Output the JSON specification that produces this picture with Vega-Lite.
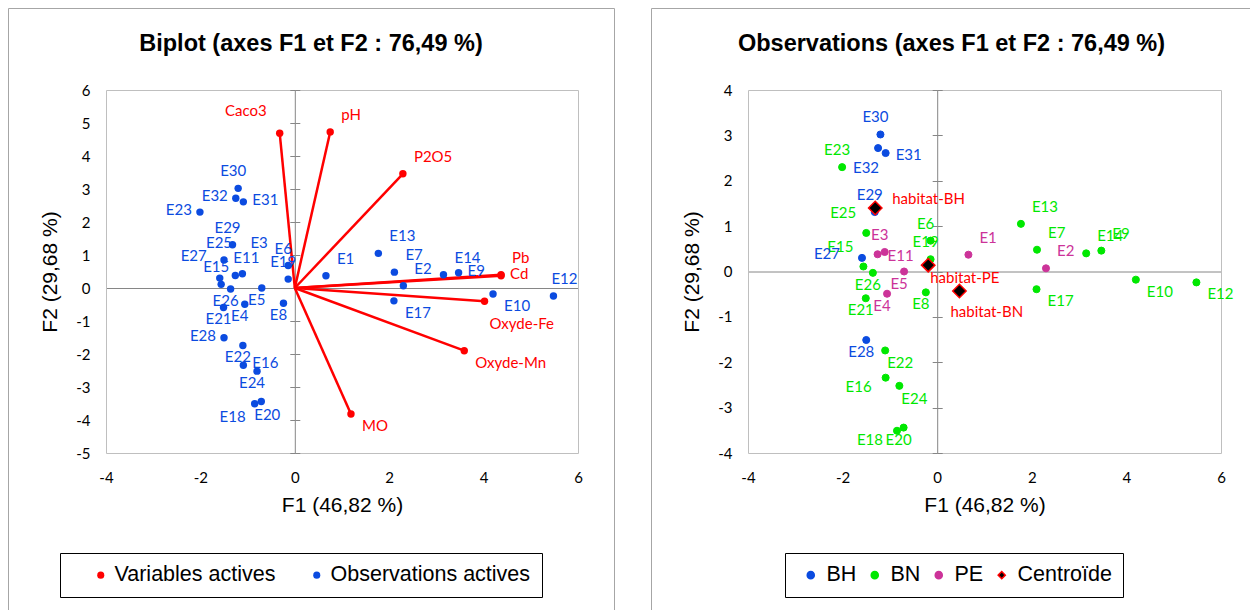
{
  "$schema": "https://vega.github.io/schema/vega-lite/v6.json",
  "padding": {"left": 7, "top": 7, "right": 0, "bottom": 0},
  "background": "white",
  "config": {"view": {"stroke": "#A6A6A6", "strokeWidth": 1}, "font": "Lato"},
  "datasets": {
    "pts": [
      {"id": "E1", "kind": "obs", "habitat": "PE", "F1": 0.66, "F2": 0.37},
      {"id": "E2", "kind": "obs", "habitat": "PE", "F1": 2.30, "F2": 0.07},
      {"id": "E3", "kind": "obs", "habitat": "PE", "F1": -1.11, "F2": 0.43},
      {"id": "E4", "kind": "obs", "habitat": "PE", "F1": -1.06, "F2": -0.49},
      {"id": "E5", "kind": "obs", "habitat": "PE", "F1": -0.70, "F2": 0.00},
      {"id": "E6", "kind": "obs", "habitat": "BN", "F1": -0.14, "F2": 0.68},
      {"id": "E7", "kind": "obs", "habitat": "BN", "F1": 2.11, "F2": 0.48},
      {"id": "E8", "kind": "obs", "habitat": "BN", "F1": -0.24, "F2": -0.46},
      {"id": "E9", "kind": "obs", "habitat": "BN", "F1": 3.47, "F2": 0.46},
      {"id": "E10", "kind": "obs", "habitat": "BN", "F1": 4.20, "F2": -0.18},
      {"id": "E11", "kind": "obs", "habitat": "PE", "F1": -1.26, "F2": 0.38},
      {"id": "E12", "kind": "obs", "habitat": "BN", "F1": 5.48, "F2": -0.24},
      {"id": "E13", "kind": "obs", "habitat": "BN", "F1": 1.77, "F2": 1.05},
      {"id": "E14", "kind": "obs", "habitat": "BN", "F1": 3.15, "F2": 0.40},
      {"id": "E15", "kind": "obs", "habitat": "BN", "F1": -1.56, "F2": 0.11},
      {"id": "E16", "kind": "obs", "habitat": "BN", "F1": -1.09, "F2": -2.34},
      {"id": "E17", "kind": "obs", "habitat": "BN", "F1": 2.10, "F2": -0.39},
      {"id": "E18", "kind": "obs", "habitat": "BN", "F1": -0.85, "F2": -3.51},
      {"id": "E19", "kind": "obs", "habitat": "BN", "F1": -0.14, "F2": 0.27},
      {"id": "E20", "kind": "obs", "habitat": "BN", "F1": -0.71, "F2": -3.44},
      {"id": "E21", "kind": "obs", "habitat": "BN", "F1": -1.51, "F2": -0.59},
      {"id": "E22", "kind": "obs", "habitat": "BN", "F1": -1.10, "F2": -1.74},
      {"id": "E23", "kind": "obs", "habitat": "BN", "F1": -2.01, "F2": 2.30},
      {"id": "E24", "kind": "obs", "habitat": "BN", "F1": -0.80, "F2": -2.52},
      {"id": "E25", "kind": "obs", "habitat": "BN", "F1": -1.50, "F2": 0.85},
      {"id": "E26", "kind": "obs", "habitat": "BN", "F1": -1.36, "F2": -0.03},
      {"id": "E27", "kind": "obs", "habitat": "BH", "F1": -1.59, "F2": 0.30},
      {"id": "E28", "kind": "obs", "habitat": "BH", "F1": -1.50, "F2": -1.51},
      {"id": "E29", "kind": "obs", "habitat": "BH", "F1": -1.32, "F2": 1.31},
      {"id": "E30", "kind": "obs", "habitat": "BH", "F1": -1.20, "F2": 3.02},
      {"id": "E31", "kind": "obs", "habitat": "BH", "F1": -1.09, "F2": 2.61},
      {"id": "E32", "kind": "obs", "habitat": "BH", "F1": -1.25, "F2": 2.72},
      {"id": "Caco3", "kind": "var", "F1": -0.32, "F2": 4.69},
      {"id": "pH", "kind": "var", "F1": 0.75, "F2": 4.73},
      {"id": "P2O5", "kind": "var", "F1": 2.29, "F2": 3.46},
      {"id": "Pb", "kind": "var", "F1": 4.37, "F2": 0.40},
      {"id": "Cd", "kind": "var", "F1": 4.37, "F2": 0.37},
      {"id": "Oxyde-Fe", "kind": "var", "F1": 4.02, "F2": -0.40},
      {"id": "Oxyde-Mn", "kind": "var", "F1": 3.59, "F2": -1.90},
      {"id": "MO", "kind": "var", "F1": 1.19, "F2": -3.82},
      {"id": "habitat-BH", "kind": "cent", "habitat": "Centroïde", "F1": -1.31, "F2": 1.40},
      {"id": "habitat-PE", "kind": "cent", "habitat": "Centroïde", "F1": -0.19, "F2": 0.14},
      {"id": "habitat-BN", "kind": "cent", "habitat": "Centroïde", "F1": 0.47, "F2": -0.43}
    ]
  },
  "spacing": 35,
  "resolve": {"scale": {"color": "independent", "fill": "independent", "stroke": "independent", "shape": "independent"}},
  "hconcat": [
    {
      "width": 606,
      "height": 606,
      "data": {"name": "pts"},
      "title": {"text": "Biplot (axes F1 et F2 : 76,49 %)", "font": "Liberation Sans", "fontSize": 23.5, "fontWeight": "bold", "color": "#000000", "anchor": "middle", "frame": "group", "offset": -66, "baseline": "alphabetic"},
      "encoding": {
        "x": {"field": "F1", "type": "quantitative", "scale": {"domain": [-4, 6], "range": [98, 570], "nice": false, "zero": false}, "axis": null},
        "y": {"field": "F2", "type": "quantitative", "scale": {"domain": [-5, 6], "range": [445, 82], "nice": false, "zero": false}, "axis": null}
      },
      "resolve": {"axis": {"x": "independent", "y": "independent"}},
      "layer": [
        {
          "transform": [{"filter": {"field": "kind", "equal": "var"}}],
          "mark": {"type": "rule", "color": "#FF0000", "strokeWidth": 2.5},
          "encoding": {
            "x": {"field": "F1", "type": "quantitative", "scale": {"domain": [-4, 6], "range": [98, 570], "nice": false, "zero": false},
              "axis": {"orient": "bottom", "offset": -161, "values": [-4, -2, 0, 2, 4, 6], "domain": true, "domainColor": "#BFBFBF", "domainWidth": 1, "ticks": false, "tickSize": 0, "grid": false, "labelFont": "Lato", "labelFontSize": 15, "labelColor": "#000000", "labelPadding": 17, "labelFlush": false, "labelOverlap": false, "labelExpr": "(datum.value < 0 ? '-' : '') + abs(datum.value)", "title": "F1 (46,82 %)", "titleFont": "Liberation Sans", "titleFontSize": 21, "titleFontWeight": "normal", "titleColor": "#000000", "titlePadding": 9}},
            "y": {"field": "F2", "type": "quantitative", "scale": {"domain": [-5, 6], "range": [445, 82], "nice": false, "zero": false},
              "axis": {"orient": "left", "offset": -98, "values": [-5, -4, -3, -2, -1, 0, 1, 2, 3, 4, 5, 6], "domain": true, "domainColor": "#BFBFBF", "domainWidth": 1, "ticks": false, "tickSize": 0, "grid": false, "labelFont": "Lato", "labelFontSize": 15, "labelColor": "#000000", "labelPadding": 16, "labelFlush": false, "labelOverlap": false, "labelExpr": "(datum.value < 0 ? '-' : '') + abs(datum.value)", "title": "F2 (29,68 %)", "titleFont": "Liberation Sans", "titleFontSize": 21, "titleFontWeight": "normal", "titleColor": "#000000", "titlePadding": 15}},
            "x2": {"datum": 0},
            "y2": {"datum": 0}
          }
        },
        {
          "transform": [{"filter": {"field": "kind", "equal": "var"}}],
          "mark": {"type": "circle", "size": 55, "opacity": 1},
          "encoding": {
            "x": {"field": "F1", "type": "quantitative", "scale": {"domain": [-4, 6], "range": [98, 570], "nice": false, "zero": false},
              "axis": {"orient": "top", "offset": -82, "domain": true, "domainColor": "#BFBFBF", "ticks": false, "labels": false, "grid": false, "title": null}},
            "y": {"field": "F2", "type": "quantitative", "scale": {"domain": [-5, 6], "range": [445, 82], "nice": false, "zero": false},
              "axis": {"orient": "right", "offset": -36, "domain": true, "domainColor": "#BFBFBF", "ticks": false, "labels": false, "grid": false, "title": null}},
            "color": {"datum": "Variables actives", "type": "nominal",
              "scale": {"domain": ["Variables actives", "Observations actives"], "range": ["#FF0000", "#0B4BE0"]},
              "legend": {"title": null, "orient": "none", "legendX": 52, "legendY": 545, "direction": "horizontal", "strokeColor": "#000000", "fillColor": "#FFFFFF", "padding": 11, "symbolType": "circle", "symbolSize": 50, "labelFont": "Liberation Sans", "labelFontSize": 21.5, "labelColor": "#000000", "labelOffset": 3, "columnPadding": 11, "symbolOffset": 19, "labelLimit": 400}}
          }
        },
        {
          "transform": [{"filter": {"field": "kind", "equal": "obs"}}],
          "mark": {"type": "circle", "size": 55, "opacity": 1},
          "encoding": {
            "x": {"field": "F1", "type": "quantitative", "scale": {"domain": [-4, 6], "range": [98, 570], "nice": false, "zero": false},
              "axis": {"orient": "bottom", "offset": -326, "domain": true, "domainColor": "#868686", "ticks": false, "labels": false, "grid": false, "title": null}},
            "y": {"field": "F2", "type": "quantitative", "scale": {"domain": [-5, 6], "range": [445, 82], "nice": false, "zero": false},
              "axis": {"orient": "left", "offset": -286.8, "values": [-5, -4, -3, -2, -1, 0, 1, 2, 3, 4, 5, 6], "domain": true, "domainColor": "#868686", "ticks": true, "tickSize": 5, "tickColor": "#868686", "labels": false, "grid": false, "title": null}},
            "color": {"datum": "Observations actives", "type": "nominal",
              "scale": {"domain": ["Variables actives", "Observations actives"], "range": ["#FF0000", "#0B4BE0"]},
              "legend": {"title": null, "orient": "none", "legendX": 52, "legendY": 545, "direction": "horizontal", "strokeColor": "#000000", "fillColor": "#FFFFFF", "padding": 11, "symbolType": "circle", "symbolSize": 50, "labelFont": "Liberation Sans", "labelFontSize": 21.5, "labelColor": "#000000", "labelOffset": 3, "columnPadding": 11, "symbolOffset": 19, "labelLimit": 400}}
          }
        },
        {
          "transform": [{"filter": {"field": "id", "oneOf": ["E30", "E29", "E25", "E15", "E6", "E19"]}}],
          "mark": {"type": "text", "font": "Lato", "fontSize": 15, "align": "center", "baseline": "middle", "dx": -5, "dy": -17},
          "encoding": {
            "y": {"field": "F2", "type": "quantitative", "scale": {"domain": [-5, 6], "range": [445, 82], "nice": false, "zero": false},
              "axis": {"orient": "right", "offset": -319.2, "values": [-5, -4, -3, -2, -1, 0, 1, 2, 3, 4, 5, 6], "domain": false, "ticks": true, "tickSize": 5, "tickColor": "#868686", "labels": false, "grid": false, "title": null}},
            "text": {"field": "id"},
            "color": {"condition": {"test": "datum.kind === 'var'", "value": "#FF0000"}, "value": "#0B4BE0"}
          }
        },
        {
          "transform": [{"filter": {"field": "id", "oneOf": ["E12", "E11"]}}],
          "mark": {"type": "text", "font": "Lato", "fontSize": 15, "align": "center", "baseline": "middle", "dx": 11, "dy": -17},
          "encoding": {"text": {"field": "id"}, "color": {"condition": {"test": "datum.kind === 'var'", "value": "#FF0000"}, "value": "#0B4BE0"}}
        },
        {
          "transform": [{"filter": {"field": "id", "oneOf": ["E26", "E5", "E21", "E4", "E8", "E22", "E24"]}}],
          "mark": {"type": "text", "font": "Lato", "fontSize": 15, "align": "center", "baseline": "middle", "dx": -5, "dy": 12},
          "encoding": {"text": {"field": "id"}, "color": {"condition": {"test": "datum.kind === 'var'", "value": "#FF0000"}, "value": "#0B4BE0"}}
        },
        {
          "transform": [{"filter": {"field": "id", "oneOf": ["E20"]}}],
          "mark": {"type": "text", "font": "Lato", "fontSize": 15, "align": "center", "baseline": "middle", "dx": 6, "dy": 13},
          "encoding": {"text": {"field": "id"}, "color": {"condition": {"test": "datum.kind === 'var'", "value": "#FF0000"}, "value": "#0B4BE0"}}
        },
        {
          "transform": [{"filter": {"field": "id", "oneOf": ["E1", "E13", "E7", "E2", "E14", "pH", "P2O5", "Pb"]}}],
          "mark": {"type": "text", "font": "Lato", "fontSize": 15, "align": "left", "baseline": "middle", "dx": 11, "dy": -17},
          "encoding": {"text": {"field": "id"}, "color": {"condition": {"test": "datum.kind === 'var'", "value": "#FF0000"}, "value": "#0B4BE0"}}
        },
        {
          "transform": [{"filter": {"field": "id", "oneOf": ["E9", "Cd", "E31", "E16"]}}],
          "mark": {"type": "text", "font": "Lato", "fontSize": 15, "align": "left", "baseline": "middle", "dx": 9, "dy": -2},
          "encoding": {"text": {"field": "id"}, "color": {"condition": {"test": "datum.kind === 'var'", "value": "#FF0000"}, "value": "#0B4BE0"}}
        },
        {
          "transform": [{"filter": {"field": "id", "oneOf": ["E10", "E17", "MO", "Oxyde-Mn"]}}],
          "mark": {"type": "text", "font": "Lato", "fontSize": 15, "align": "left", "baseline": "middle", "dx": 11, "dy": 12},
          "encoding": {"text": {"field": "id"}, "color": {"condition": {"test": "datum.kind === 'var'", "value": "#FF0000"}, "value": "#0B4BE0"}}
        },
        {
          "transform": [{"filter": {"field": "id", "oneOf": ["Oxyde-Fe"]}}],
          "mark": {"type": "text", "font": "Lato", "fontSize": 15, "align": "left", "baseline": "middle", "dx": 5, "dy": 23},
          "encoding": {"text": {"field": "id"}, "color": {"condition": {"test": "datum.kind === 'var'", "value": "#FF0000"}, "value": "#0B4BE0"}}
        },
        {
          "transform": [{"filter": {"field": "id", "oneOf": ["E32", "E23", "E28"]}}],
          "mark": {"type": "text", "font": "Lato", "fontSize": 15, "align": "right", "baseline": "middle", "dx": -8, "dy": -2},
          "encoding": {"text": {"field": "id"}, "color": {"condition": {"test": "datum.kind === 'var'", "value": "#FF0000"}, "value": "#0B4BE0"}}
        },
        {
          "transform": [{"filter": {"field": "id", "oneOf": ["Caco3", "E27"]}}],
          "mark": {"type": "text", "font": "Lato", "fontSize": 15, "align": "right", "baseline": "middle", "dx": -13, "dy": -22},
          "encoding": {"text": {"field": "id"}, "color": {"condition": {"test": "datum.kind === 'var'", "value": "#FF0000"}, "value": "#0B4BE0"}}
        },
        {
          "transform": [{"filter": {"field": "id", "oneOf": ["E18"]}}],
          "mark": {"type": "text", "font": "Lato", "fontSize": 15, "align": "right", "baseline": "middle", "dx": -9, "dy": 13},
          "encoding": {"text": {"field": "id"}, "color": {"condition": {"test": "datum.kind === 'var'", "value": "#FF0000"}, "value": "#0B4BE0"}}
        },
        {
          "transform": [{"filter": {"field": "id", "oneOf": ["E3"]}}],
          "mark": {"type": "text", "font": "Lato", "fontSize": 15, "align": "left", "baseline": "middle", "dx": 8, "dy": -31},
          "encoding": {"text": {"field": "id"}, "color": {"condition": {"test": "datum.kind === 'var'", "value": "#FF0000"}, "value": "#0B4BE0"}}
        }
      ]
    },
    {
      "width": 601,
      "height": 606,
      "data": {"name": "pts"},
      "title": {"text": "Observations (axes F1 et F2 : 76,49 %)", "font": "Liberation Sans", "fontSize": 23.5, "fontWeight": "bold", "color": "#000000", "anchor": "middle", "frame": "group", "offset": -66, "baseline": "alphabetic"},
      "encoding": {
        "x": {"field": "F1", "type": "quantitative", "scale": {"domain": [-4, 6], "range": [97, 570], "nice": false, "zero": false}, "axis": null},
        "y": {"field": "F2", "type": "quantitative", "scale": {"domain": [-4, 4], "range": [445, 82], "nice": false, "zero": false}, "axis": null}
      },
      "resolve": {"axis": {"x": "independent", "y": "independent"}},
      "layer": [
        {
          "transform": [{"filter": {"field": "kind", "equal": "obs"}}],
          "mark": {"type": "point", "filled": true, "size": 50, "strokeWidth": 1, "opacity": 1},
          "encoding": {
            "x": {"field": "F1", "type": "quantitative", "scale": {"domain": [-4, 6], "range": [97, 570], "nice": false, "zero": false},
              "axis": {"orient": "bottom", "offset": -161, "values": [-4, -2, 0, 2, 4, 6], "domain": true, "domainColor": "#BFBFBF", "domainWidth": 1, "ticks": false, "tickSize": 0, "grid": false, "labelFont": "Lato", "labelFontSize": 15, "labelColor": "#000000", "labelPadding": 17, "labelFlush": false, "labelOverlap": false, "labelExpr": "(datum.value < 0 ? '-' : '') + abs(datum.value)", "title": "F1 (46,82 %)", "titleFont": "Liberation Sans", "titleFontSize": 21, "titleFontWeight": "normal", "titleColor": "#000000", "titlePadding": 9}},
            "y": {"field": "F2", "type": "quantitative", "scale": {"domain": [-4, 4], "range": [445, 82], "nice": false, "zero": false},
              "axis": {"orient": "left", "offset": -97, "values": [-4, -3, -2, -1, 0, 1, 2, 3, 4], "domain": true, "domainColor": "#BFBFBF", "domainWidth": 1, "ticks": false, "tickSize": 0, "grid": false, "labelFont": "Lato", "labelFontSize": 15, "labelColor": "#000000", "labelPadding": 16, "labelFlush": false, "labelOverlap": false, "labelExpr": "(datum.value < 0 ? '-' : '') + abs(datum.value)", "title": "F2 (29,68 %)", "titleFont": "Liberation Sans", "titleFontSize": 21, "titleFontWeight": "normal", "titleColor": "#000000", "titlePadding": 15}},
            "fill": {"field": "habitat", "type": "nominal", "scale": {"domain": ["BH", "BN", "PE", "Centroïde"], "range": ["#0B4BE0", "#00E800", "#CC3399", "#000000"]},
              "legend": {"title": null, "orient": "none", "legendX": 134, "legendY": 545, "direction": "horizontal", "strokeColor": "#000000", "fillColor": "#FFFFFF", "padding": 11, "symbolSize": 50, "symbolStrokeWidth": 1.5, "labelFont": "Liberation Sans", "labelFontSize": 21.5, "labelColor": "#000000", "labelOffset": 5, "columnPadding": 3, "symbolOffset": 4, "labelLimit": 400}},
            "stroke": {"field": "habitat", "type": "nominal", "scale": {"domain": ["BH", "BN", "PE", "Centroïde"], "range": ["#0B4BE0", "#00E800", "#CC3399", "#FF0000"]},
              "legend": {"title": null, "orient": "none", "legendX": 134, "legendY": 545, "direction": "horizontal", "strokeColor": "#000000", "fillColor": "#FFFFFF", "padding": 11, "symbolSize": 50, "symbolStrokeWidth": 1.5, "labelFont": "Liberation Sans", "labelFontSize": 21.5, "labelColor": "#000000", "labelOffset": 5, "columnPadding": 3, "symbolOffset": 4, "labelLimit": 400}},
            "shape": {"field": "habitat", "type": "nominal", "scale": {"domain": ["BH", "BN", "PE", "Centroïde"], "range": ["circle", "circle", "circle", "diamond"]},
              "legend": {"title": null, "orient": "none", "legendX": 134, "legendY": 545, "direction": "horizontal", "strokeColor": "#000000", "fillColor": "#FFFFFF", "padding": 11, "symbolSize": 50, "symbolStrokeWidth": 1.5, "labelFont": "Liberation Sans", "labelFontSize": 21.5, "labelColor": "#000000", "labelOffset": 5, "columnPadding": 3, "symbolOffset": 4, "labelLimit": 400}}
          }
        },
        {
          "transform": [{"filter": {"field": "kind", "equal": "cent"}}],
          "mark": {"type": "point", "filled": true, "size": 180, "strokeWidth": 1.5, "opacity": 1},
          "encoding": {
            "x": {"field": "F1", "type": "quantitative", "scale": {"domain": [-4, 6], "range": [97, 570], "nice": false, "zero": false},
              "axis": {"orient": "top", "offset": -82, "domain": true, "domainColor": "#BFBFBF", "ticks": false, "labels": false, "grid": false, "title": null}},
            "y": {"field": "F2", "type": "quantitative", "scale": {"domain": [-4, 4], "range": [445, 82], "nice": false, "zero": false},
              "axis": {"orient": "right", "offset": -31, "domain": true, "domainColor": "#BFBFBF", "ticks": false, "labels": false, "grid": false, "title": null}},
            "fill": {"field": "habitat", "type": "nominal", "scale": {"domain": ["BH", "BN", "PE", "Centroïde"], "range": ["#0B4BE0", "#00E800", "#CC3399", "#000000"]},
              "legend": {"title": null, "orient": "none", "legendX": 134, "legendY": 545, "direction": "horizontal", "strokeColor": "#000000", "fillColor": "#FFFFFF", "padding": 11, "symbolSize": 50, "symbolStrokeWidth": 1.5, "labelFont": "Liberation Sans", "labelFontSize": 21.5, "labelColor": "#000000", "labelOffset": 5, "columnPadding": 3, "symbolOffset": 4, "labelLimit": 400}},
            "stroke": {"field": "habitat", "type": "nominal", "scale": {"domain": ["BH", "BN", "PE", "Centroïde"], "range": ["#0B4BE0", "#00E800", "#CC3399", "#FF0000"]},
              "legend": {"title": null, "orient": "none", "legendX": 134, "legendY": 545, "direction": "horizontal", "strokeColor": "#000000", "fillColor": "#FFFFFF", "padding": 11, "symbolSize": 50, "symbolStrokeWidth": 1.5, "labelFont": "Liberation Sans", "labelFontSize": 21.5, "labelColor": "#000000", "labelOffset": 5, "columnPadding": 3, "symbolOffset": 4, "labelLimit": 400}},
            "shape": {"field": "habitat", "type": "nominal", "scale": {"domain": ["BH", "BN", "PE", "Centroïde"], "range": ["circle", "circle", "circle", "diamond"]},
              "legend": {"title": null, "orient": "none", "legendX": 134, "legendY": 545, "direction": "horizontal", "strokeColor": "#000000", "fillColor": "#FFFFFF", "padding": 11, "symbolSize": 50, "symbolStrokeWidth": 1.5, "labelFont": "Liberation Sans", "labelFontSize": 21.5, "labelColor": "#000000", "labelOffset": 5, "columnPadding": 3, "symbolOffset": 4, "labelLimit": 400}}
          }
        },
        {
          "transform": [{"filter": {"field": "id", "oneOf": ["E30", "E23", "E29", "E3", "E6", "E19"]}}],
          "mark": {"type": "text", "font": "Lato", "fontSize": 15, "align": "center", "baseline": "middle", "dx": -5, "dy": -17},
          "encoding": {
            "x": {"field": "F1", "type": "quantitative", "scale": {"domain": [-4, 6], "range": [97, 570], "nice": false, "zero": false},
              "axis": {"orient": "bottom", "offset": -342.5, "domain": true, "domainColor": "#868686", "ticks": false, "labels": false, "grid": false, "title": null}},
            "y": {"field": "F2", "type": "quantitative", "scale": {"domain": [-4, 4], "range": [445, 82], "nice": false, "zero": false},
              "axis": {"orient": "left", "offset": -286.2, "values": [-4, -3, -2, -1, 0, 1, 2, 3, 4], "domain": true, "domainColor": "#868686", "ticks": true, "tickSize": 5, "tickColor": "#868686", "labels": false, "grid": false, "title": null}},
            "text": {"field": "id"},
            "color": {"field": "habitat", "type": "nominal", "scale": {"domain": ["BH", "BN", "PE", "Centroïde"], "range": ["#0B4BE0", "#00E800", "#CC3399", "#FF0000"]}, "legend": null}
          }
        },
        {
          "transform": [{"filter": {"field": "id", "oneOf": ["E26", "E5", "E4", "E21", "E8", "E28", "E20"]}}],
          "mark": {"type": "text", "font": "Lato", "fontSize": 15, "align": "center", "baseline": "middle", "dx": -5, "dy": 12},
          "encoding": {
            "y": {"field": "F2", "type": "quantitative", "scale": {"domain": [-4, 4], "range": [445, 82], "nice": false, "zero": false},
              "axis": {"orient": "right", "offset": -314.8, "values": [-4, -3, -2, -1, 0, 1, 2, 3, 4], "domain": false, "ticks": true, "tickSize": 5, "tickColor": "#868686", "labels": false, "grid": false, "title": null}},
            "text": {"field": "id"},
            "color": {"field": "habitat", "type": "nominal", "scale": {"domain": ["BH", "BN", "PE", "Centroïde"], "range": ["#0B4BE0", "#00E800", "#CC3399", "#FF0000"]}, "legend": null}
          }
        },
        {
          "transform": [{"filter": {"field": "id", "oneOf": ["E13", "E7", "E1", "E2", "E14", "E9"]}}],
          "mark": {"type": "text", "font": "Lato", "fontSize": 15, "align": "left", "baseline": "middle", "dx": 11, "dy": -17},
          "encoding": {"text": {"field": "id"}, "color": {"field": "habitat", "type": "nominal", "scale": {"domain": ["BH", "BN", "PE", "Centroïde"], "range": ["#0B4BE0", "#00E800", "#CC3399", "#FF0000"]}, "legend": null}}
        },
        {
          "transform": [{"filter": {"field": "id", "oneOf": ["E10", "E12", "E17"]}}],
          "mark": {"type": "text", "font": "Lato", "fontSize": 15, "align": "left", "baseline": "middle", "dx": 11, "dy": 12},
          "encoding": {"text": {"field": "id"}, "color": {"field": "habitat", "type": "nominal", "scale": {"domain": ["BH", "BN", "PE", "Centroïde"], "range": ["#0B4BE0", "#00E800", "#CC3399", "#FF0000"]}, "legend": null}}
        },
        {
          "transform": [{"filter": {"field": "id", "oneOf": ["E31", "E11"]}}],
          "mark": {"type": "text", "font": "Lato", "fontSize": 15, "align": "left", "baseline": "middle", "dx": 10, "dy": 2},
          "encoding": {"text": {"field": "id"}, "color": {"field": "habitat", "type": "nominal", "scale": {"domain": ["BH", "BN", "PE", "Centroïde"], "range": ["#0B4BE0", "#00E800", "#CC3399", "#FF0000"]}, "legend": null}}
        },
        {
          "transform": [{"filter": {"field": "id", "oneOf": ["habitat-BH"]}}],
          "mark": {"type": "text", "font": "Lato", "fontSize": 15, "align": "left", "baseline": "middle", "dx": 17, "dy": -9},
          "encoding": {"text": {"field": "id"}, "color": {"field": "habitat", "type": "nominal", "scale": {"domain": ["BH", "BN", "PE", "Centroïde"], "range": ["#0B4BE0", "#00E800", "#CC3399", "#FF0000"]}, "legend": null}}
        },
        {
          "transform": [{"filter": {"field": "id", "oneOf": ["E22", "E24", "habitat-PE"]}}],
          "mark": {"type": "text", "font": "Lato", "fontSize": 15, "align": "left", "baseline": "middle", "dx": 2, "dy": 13},
          "encoding": {"text": {"field": "id"}, "color": {"field": "habitat", "type": "nominal", "scale": {"domain": ["BH", "BN", "PE", "Centroïde"], "range": ["#0B4BE0", "#00E800", "#CC3399", "#FF0000"]}, "legend": null}}
        },
        {
          "transform": [{"filter": {"field": "id", "oneOf": ["habitat-BN"]}}],
          "mark": {"type": "text", "font": "Lato", "fontSize": 15, "align": "left", "baseline": "middle", "dx": -9, "dy": 21},
          "encoding": {"text": {"field": "id"}, "color": {"field": "habitat", "type": "nominal", "scale": {"domain": ["BH", "BN", "PE", "Centroïde"], "range": ["#0B4BE0", "#00E800", "#CC3399", "#FF0000"]}, "legend": null}}
        },
        {
          "transform": [{"filter": {"field": "id", "oneOf": ["E25", "E15"]}}],
          "mark": {"type": "text", "font": "Lato", "fontSize": 15, "align": "right", "baseline": "middle", "dx": -10, "dy": -20},
          "encoding": {"text": {"field": "id"}, "color": {"field": "habitat", "type": "nominal", "scale": {"domain": ["BH", "BN", "PE", "Centroïde"], "range": ["#0B4BE0", "#00E800", "#CC3399", "#FF0000"]}, "legend": null}}
        },
        {
          "transform": [{"filter": {"field": "id", "oneOf": ["E27"]}}],
          "mark": {"type": "text", "font": "Lato", "fontSize": 15, "align": "right", "baseline": "middle", "dx": -22, "dy": -4},
          "encoding": {"text": {"field": "id"}, "color": {"field": "habitat", "type": "nominal", "scale": {"domain": ["BH", "BN", "PE", "Centroïde"], "range": ["#0B4BE0", "#00E800", "#CC3399", "#FF0000"]}, "legend": null}}
        },
        {
          "transform": [{"filter": {"field": "id", "oneOf": ["E16", "E18"]}}],
          "mark": {"type": "text", "font": "Lato", "fontSize": 15, "align": "right", "baseline": "middle", "dx": -14, "dy": 9},
          "encoding": {"text": {"field": "id"}, "color": {"field": "habitat", "type": "nominal", "scale": {"domain": ["BH", "BN", "PE", "Centroïde"], "range": ["#0B4BE0", "#00E800", "#CC3399", "#FF0000"]}, "legend": null}}
        },
        {
          "transform": [{"filter": {"field": "id", "oneOf": ["E32"]}}],
          "mark": {"type": "text", "font": "Lato", "fontSize": 15, "align": "right", "baseline": "middle", "dx": 1, "dy": 20},
          "encoding": {"text": {"field": "id"}, "color": {"field": "habitat", "type": "nominal", "scale": {"domain": ["BH", "BN", "PE", "Centroïde"], "range": ["#0B4BE0", "#00E800", "#CC3399", "#FF0000"]}, "legend": null}}
        }
      ]
    }
  ]
}
